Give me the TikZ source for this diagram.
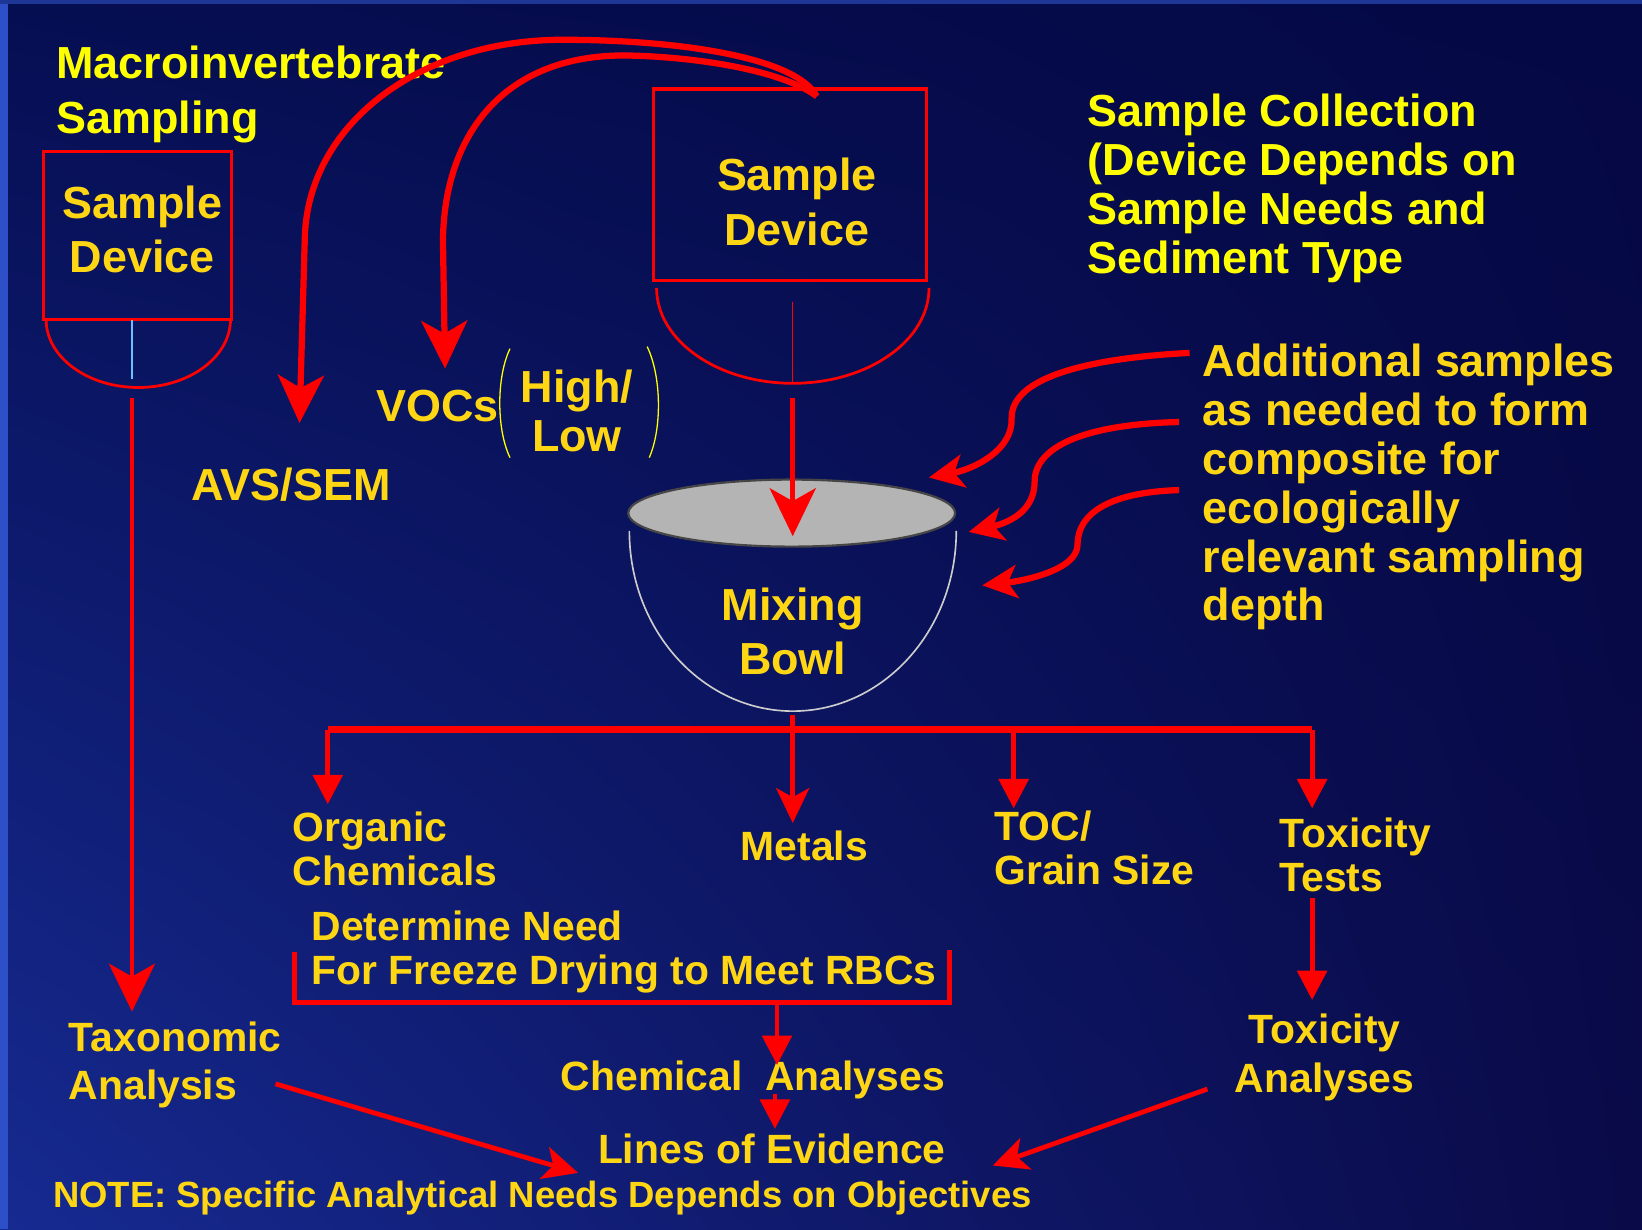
\documentclass[tikz,border=0pt]{standalone}
\usepackage{fontspec}
\setmainfont{Liberation Sans}
\usetikzlibrary{arrows.meta,shadings}

\definecolor{navyA}{RGB}{6,14,82}
\definecolor{navyB}{RGB}{4,8,68}
\definecolor{navyC}{RGB}{22,42,145}
\definecolor{navyD}{RGB}{10,10,72}
\definecolor{edgeblue}{RGB}{45,80,200}
\definecolor{topblue}{RGB}{30,55,150}
\definecolor{gold}{RGB}{255,214,20}
\definecolor{brightyel}{RGB}{255,255,0}
\definecolor{bowlgray}{RGB}{180,180,180}
\definecolor{rimgray}{RGB}{70,70,70}
\definecolor{thinblue}{RGB}{110,190,255}

\begin{document}
\begin{tikzpicture}[x=0.01cm, y=-0.01cm,
    bigtxt/.style={text=gold, inner sep=0pt, align=left, font=\fontsize{12.2}{13.3}\selectfont\bfseries},
    smalltxt/.style={text=gold, inner sep=0pt, align=left, font=\fontsize{11.1}{11.9}\selectfont\bfseries},
    devbox/.style={draw=red, line width=0.85pt, minimum width=#1, inner sep=0pt},
    redline/.style={draw=red, line width=1.3pt},
    thickline/.style={draw=red, line width=1.7pt},
    bigtip/.style={-{Stealth[length=13pt, width=12.5pt, inset=3.5pt]}},
    midtip/.style={-{Stealth[length=9.5pt, width=9pt, inset=2.5pt]}},
    tritip/.style={-{Triangle[length=8pt, width=8pt]}}]

    % Background
    \useasboundingbox (0,0) rectangle (1568,1174);
    \shade[upper left=navyA, upper right=navyB, lower left=navyC, lower right=navyD] (0,0) rectangle (1568,1174);
    \fill[edgeblue] (0,0) rectangle (8,1174);
    \fill[topblue] (0,0) rectangle (1568,4);

    % Macroinvertebrate sample device
    \node[bigtxt, text=brightyel, anchor=west, font=\fontsize{12.2}{15}\selectfont\bfseries] (macro) at (53,90) {Macroinvertebrate\\Sampling};
    \node[devbox=1.79cm, minimum height=1.60cm] (devL) at (131.5,225) {};
    \node[bigtxt, align=center, font=\fontsize{12.2}{14.8}\selectfont\bfseries] (devLtext) at (136,219) {Sample\\Device};
    \draw[red, line width=0.75pt] (44,305) arc[start angle=180, end angle=360, x radius=0.88cm, y radius=0.65cm];
    \draw[thinblue, line width=0.4pt] (126,306) -- (126,362);

    % Sediment sample device
    \node[devbox=2.61cm, minimum height=1.83cm] (devR) at (754.5,176.5) {};
    \node[bigtxt, align=center, font=\fontsize{12.2}{14.8}\selectfont\bfseries] (devRtext) at (761,193) {Sample\\Device};
    \draw[red, line width=0.75pt] (627,275) arc[start angle=180, end angle=360, x radius=1.30cm, y radius=0.91cm];
    \draw[red, line width=0.4pt] (757,288) -- (757,366);

    % Sub-samples
    \node[bigtxt] (avs) at (278,463) {AVS/SEM};
    \node[bigtxt] (vocs) at (418,388) {VOCs};
    \node[bigtxt, align=center] (hilo) at (551,392) {High/\\Low};
    \draw[brightyel, line width=0.35pt] (487,333) .. controls (474,360) and (474,410) .. (487,437);
    \draw[brightyel, line width=0.35pt] (618,331) .. controls (632,360) and (632,410) .. (620,437);

    % Notes on the right
    \node[bigtxt, text=brightyel, anchor=west] (collect) at (1038,180) {Sample Collection\\(Device Depends on\\Sample Needs and\\Sediment Type};
    \node[bigtxt, anchor=west] (addl) at (1148,465) {Additional samples\\as needed to form\\composite for\\ecologically\\relevant sampling\\depth};

    % Mixing bowl
    \draw[gray!40, line width=0.45pt] (601,507) arc[start angle=180, end angle=360, x radius=1.56cm, y radius=1.72cm];
    \draw[fill=bowlgray, draw=rimgray, line width=0.6pt] (756,490) ellipse[x radius=1.56cm, y radius=0.32cm];
    \node[bigtxt, align=center, font=\fontsize{12.2}{14.6}\selectfont\bfseries] (bowl) at (757,603) {Mixing\\Bowl};

    % Analyses
    \node[smalltxt, anchor=west] (organic) at (279,811) {Organic\\Chemicals};
    \node[smalltxt] (metals) at (768,808) {Metals};
    \node[smalltxt, anchor=west] (toc) at (949,810) {TOC/\\Grain Size};
    \node[smalltxt, anchor=west] (toxT) at (1221,816) {Toxicity\\Tests};
    \node[smalltxt, anchor=west] (freeze) at (297,909) {Determine Need\\For Freeze Drying to Meet RBCs};
    \draw[red, line width=1.4pt] (281,909) |- (907,957) -- (907,907);
    \node[smalltxt] (chem) at (719,1031) {Chemical\ \ Analyses};
    \node[smalltxt] (lines) at (737,1097) {Lines of Evidence};
    \node[smalltxt, anchor=west, font=\fontsize{11.1}{12.8}\selectfont\bfseries] (taxo) at (65,1017) {Taxonomic\\Analysis};
    \node[smalltxt, align=center, font=\fontsize{11.1}{13.3}\selectfont\bfseries] (toxA) at (1265,1010) {Toxicity\\Analyses};
    \node[smalltxt, text=gold, font=\fontsize{9.9}{11}\selectfont\bfseries, anchor=west] (note) at (50,1144) {NOTE: Specific Analytical Needs Depends on Objectives};

    % Connector points
    \coordinate (devRtop) at (780,92);
    \coordinate (avsTip) at (286,404);
    \coordinate (vocTip) at (425,352);
    \coordinate (devLout) at (126,380);
    \coordinate (taxTip) at (126,966);
    \coordinate (devRout) at (757,380);
    \coordinate (bowlIn) at (757,512);
    \coordinate (add1) at (1136,337);
    \coordinate (add2) at (1126,403);
    \coordinate (add3) at (1126,468);
    \coordinate (rim1) at (887,456);
    \coordinate (rim2) at (925,508);
    \coordinate (rim3) at (938,559);
    \coordinate (bowlOut) at (757,683);
    \coordinate (barL) at (313,697);
    \coordinate (barR) at (1253,697);
    \coordinate (orgTip) at (313,768);
    \coordinate (metTip) at (757,786);
    \coordinate (tocTip) at (968,772);
    \coordinate (toxTip) at (1253,772);
    \coordinate (brkOut) at (742,957);
    \coordinate (chemTip) at (742,1017);
    \coordinate (chemOut) at (740,1045);
    \coordinate (linesTip) at (740,1078);
    \coordinate (toxOut) at (1253,858);
    \coordinate (toxATip) at (1253,955);
    \coordinate (taxOut) at (263,1035);
    \coordinate (linesL) at (552,1120);
    \coordinate (toxAOut) at (1153,1040);
    \coordinate (linesR) at (948,1113);

    % Arrows
    \draw[thickline, bigtip] (devRtop) .. controls (760,55) and (650,38) .. (537,38) .. controls (400,38) and (292,120) .. (291,230) -- (avsTip);
    \draw[thickline, bigtip] (devRtop) .. controls (745,66) and (660,54) .. (598,53) .. controls (480,52) and (424,130) .. (423,230) -- (vocTip);
    \draw[redline, bigtip] (devLout) -- (taxTip);
    \draw[redline, bigtip] (devRout) -- (bowlIn);
    \draw[thickline, midtip] (add1) .. controls (1040,342) and (965,360) .. (966,400) .. controls (967,430) and (930,448) .. (rim1);
    \draw[thickline, midtip] (add2) .. controls (1040,405) and (988,425) .. (988,460) .. controls (988,490) and (960,500) .. (rim2);
    \draw[thickline, midtip] (add3) .. controls (1060,470) and (1029,490) .. (1029,520) .. controls (1029,545) and (975,555) .. (rim3);
    \draw[red, line width=1.85pt] (barL) -- (barR);
    \draw[redline, midtip] (bowlOut) -- (metTip);
    \draw[redline, tritip] (barL) -- (orgTip);
    \draw[redline, tritip] (tocTip |- barL) -- (tocTip);
    \draw[redline, tritip] (barR) -- (toxTip);
    \draw[redline, tritip] (brkOut) -- (chemTip);
    \draw[redline, tritip] (chemOut) -- (linesTip);
    \draw[redline, tritip] (toxOut) -- (toxATip);
    \draw[redline, midtip] (taxOut) -- (linesL);
    \draw[redline, midtip] (toxAOut) -- (linesR);
\end{tikzpicture}
\end{document}
